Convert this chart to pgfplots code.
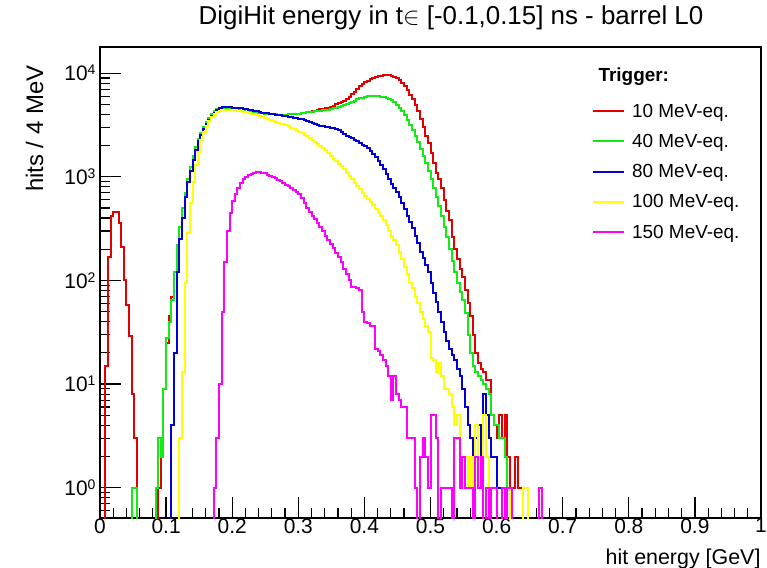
\documentclass[border=0pt]{standalone}
\usepackage{fontspec}
\setmainfont{Liberation Sans}
\usepackage{pgfplots}
\pgfplotsset{compat=1.18}
\definecolor{rred}{RGB}{228,0,0}
\definecolor{rgreen}{RGB}{20,235,20}
\definecolor{rblue}{RGB}{0,0,215}
\definecolor{ryellow}{RGB}{255,255,0}
\definecolor{rmagenta}{RGB}{255,0,255}
\newcommand\tenpow[1]{10\raisebox{6bp}{\fontsize{14}{14}\selectfont #1}}
\begin{document}
\begin{tikzpicture}
\begin{axis}[
  at={(0,0)}, anchor=south west,
  scale only axis, width=661bp, height=471bp,
  xmin=0, xmax=1, ymode=log, ymin=0.51, ymax=17900,
  axis line style={line width=1.3bp},
  tick style={line width=1.2bp, black},
  tick align=inside, xtick pos=left, ytick pos=left,
  major tick length=21bp, minor tick length=10.5bp,
  xtick={0,0.1,...,1}, minor x tick num=4,
  ytick={1,10,100,1000,10000},
  yticklabels={\tenpow{0},\tenpow{1},\tenpow{2},\tenpow{3},\tenpow{4}},
  minor ytick={0.6,0.7,0.8,0.9,2,3,4,5,6,7,8,9,20,30,40,50,60,70,80,90,200,300,400,500,600,700,800,900,2000,3000,4000,5000,6000,7000,8000,9000},
  /pgf/number format/assume math mode=true,
  tick label style={font=\fontsize{21}{21}\selectfont},
  xticklabel style={yshift=3bp},
  yticklabel style={xshift=-1bp},
  title={DigiHit energy in t$\in$ [-0.1,0.15] ns - barrel L0},
  title style={at={(axis description cs:0.531,1.036)}, anchor=base, yshift=0pt, inner sep=0pt, font=\fontsize{26}{26}\selectfont},
  xlabel={hit energy [GeV]},
  xlabel style={at={(axis description cs:1,0)}, anchor=north east, xshift=3bp, yshift=-27bp, font=\fontsize{21.5}{21.5}\selectfont},
  ylabel={hits / 4 MeV},
  ylabel style={at={(axis description cs:-0.0802,0.968)}, anchor=south east, font=\fontsize{24}{24}\selectfont},
  legend style={draw=none, fill=none, at={(rel axis cs:0.7443,0.8963)}, anchor=north west,
    font=\fontsize{19}{19}\selectfont, inner sep=0pt,
    nodes={inner sep=0pt, minimum height=30.3bp},
    /tikz/every odd column/.append style={column sep=7bp}},
  legend cell align=left,
  legend image code/.code={\draw[#1,line width=2bp] (0bp,0bp) -- (31bp,0bp);},
  every axis plot/.append style={const plot mark left, line width=2bp, no marks},
]
% 10 MeV-eq.
\addplot[rred] coordinates {
(0.004,0.01)(0.008,15)(0.012,170)(0.016,420)(0.020,460)(0.024,460)(0.028,360)(0.032,210)(0.036,100)(0.040,58)(0.044,29)(0.048,8)(0.052,3)
(0.056,0.01)
(0.088,1)(0.092,2)(0.096,9)(0.100,25)(0.104,45)(0.108,70)(0.112,120)(0.116,220)(0.120,330)(0.124,500)(0.128,700)(0.132,950)(0.136,1250)(0.140,1600)(0.144,1950)(0.148,2300)(0.152,2650)(0.156,3000)(0.160,3350)(0.164,3700)(0.168,4000)(0.172,4300)(0.176,4500)(0.180,4600)
(0.184,4650)(0.188,4650)(0.192,4600)(0.196,4550)(0.200,4500)(0.204,4450)(0.208,4400)(0.212,4350)(0.216,4300)(0.220,4250)(0.224,4220)(0.228,4190)(0.232,4160)(0.236,4140)(0.240,4120)(0.244,4100)(0.248,4080)(0.252,4060)(0.256,4040)(0.260,4020)(0.264,4000)(0.268,3990)(0.272,3980)(0.276,3980)(0.280,3990)(0.284,4000)(0.288,4020)(0.292,4040)
(0.296,4060)(0.300,4080)(0.304,4110)(0.308,4150)(0.312,4200)(0.316,4250)(0.320,4300)(0.324,4350)(0.328,4420)(0.332,4480)(0.336,4540)(0.340,4600)(0.344,4650)(0.348,4750)(0.352,4870)(0.356,5000)(0.360,5120)(0.364,5250)(0.368,5400)(0.372,5600)(0.376,5900)(0.380,6250)(0.384,6650)(0.388,7050)(0.392,7450)(0.396,7800)
(0.400,8150)(0.404,8450)(0.408,8750)(0.412,9000)(0.416,9200)(0.420,9400)(0.424,9500)(0.428,9600)(0.432,9650)(0.436,9600)(0.440,9500)(0.444,9250)(0.448,8950)(0.452,8550)(0.456,8100)(0.460,7500)(0.464,6900)(0.468,6200)(0.472,5600)(0.476,4900)(0.480,4300)(0.484,3600)(0.488,3000)(0.492,2500)(0.496,2100)
(0.500,1700)(0.504,1350)(0.508,1100)(0.512,950)(0.516,780)(0.520,600)(0.524,470)(0.528,380)(0.532,260)(0.536,200)(0.540,160)(0.544,130)(0.548,108)(0.552,80)(0.556,60)(0.560,45)(0.564,30)(0.568,20)(0.572,16)(0.576,14)(0.580,13)(0.584,11)(0.588,11)(0.592,5)(0.596,4)
(0.600,3)(0.604,5)(0.608,3)(0.612,5)(0.616,2)(0.620,1)(0.624,1)(0.628,2)(0.632,1)(0.636,1)(0.640,0.01)
};
\addlegendentry{10 MeV-eq.}
% 40 MeV-eq.
\addplot[rgreen] coordinates {
(0.044,0.01)(0.048,1)(0.052,1)(0.056,0.01)
(0.084,1)(0.088,3)(0.092,2)(0.096,9)(0.100,28)(0.104,40)(0.108,65)(0.112,120)(0.116,220)(0.120,330)(0.124,500)(0.128,700)(0.132,950)(0.136,1250)(0.140,1600)(0.144,1950)(0.148,2300)(0.152,2650)(0.156,3000)(0.160,3350)(0.164,3700)(0.168,4000)(0.172,4300)(0.176,4500)(0.180,4600)
(0.184,4650)(0.188,4650)(0.192,4600)(0.196,4550)(0.200,4500)(0.204,4450)(0.208,4400)(0.212,4350)(0.216,4300)(0.220,4250)(0.224,4220)(0.228,4190)(0.232,4160)(0.236,4140)(0.240,4120)(0.244,4100)(0.248,4080)(0.252,4060)(0.256,4040)(0.260,4020)(0.264,4000)(0.268,3990)(0.272,3980)(0.276,3980)(0.280,3990)(0.284,4000)(0.288,4020)(0.292,4040)
(0.296,4060)(0.300,4080)(0.304,4110)(0.308,4150)(0.312,4190)(0.316,4230)(0.320,4260)(0.324,4290)(0.328,4320)(0.332,4350)(0.336,4380)(0.340,4410)(0.344,4450)(0.348,4500)(0.352,4580)(0.356,4660)(0.360,4740)(0.364,4820)(0.368,4900)(0.372,5000)(0.376,5150)(0.380,5300)(0.384,5450)(0.388,5600)(0.392,5720)(0.396,5820)
(0.400,5900)(0.404,5960)(0.408,6000)(0.412,6030)(0.416,6030)(0.420,6000)(0.424,5950)(0.428,5880)(0.432,5780)(0.436,5650)(0.440,5480)(0.444,5250)(0.448,4980)(0.452,4650)(0.456,4300)(0.460,3950)(0.464,3550)(0.468,3150)(0.472,2800)(0.476,2450)(0.480,2150)(0.484,1850)(0.488,1600)(0.492,1350)(0.496,1150)
(0.500,950)(0.504,780)(0.508,640)(0.512,520)(0.516,420)(0.520,330)(0.524,260)(0.528,200)(0.532,155)(0.536,120)(0.540,95)(0.544,78)(0.548,65)(0.552,48)(0.556,30)(0.560,20)(0.564,15)(0.568,13)(0.572,12)(0.576,11)(0.580,10)(0.584,9)(0.588,8)(0.592,5)(0.596,4)
(0.600,4)(0.604,3)(0.608,3)(0.612,2)(0.616,1)(0.620,0.01)
};
\addlegendentry{40 MeV-eq.}
% 80 MeV-eq.
\addplot[rblue] coordinates {
(0.104,0.01)(0.108,4)(0.112,20)(0.116,120)(0.120,250)(0.124,400)(0.128,640)(0.132,900)(0.136,1150)(0.140,1450)(0.144,1800)(0.148,2200)(0.152,2550)(0.156,2900)(0.160,3250)(0.164,3550)(0.168,3850)(0.172,4150)(0.176,4400)(0.180,4600)
(0.184,4700)(0.188,4700)(0.192,4700)(0.196,4700)(0.200,4650)(0.204,4650)(0.208,4600)(0.212,4600)(0.216,4550)(0.220,4500)(0.224,4450)(0.228,4400)(0.232,4350)(0.236,4300)(0.240,4230)(0.244,4170)(0.248,4130)(0.252,4100)(0.256,4060)(0.260,4020)(0.264,3980)(0.268,3950)(0.272,3920)(0.276,3880)(0.280,3850)(0.284,3800)(0.288,3750)(0.292,3720)
(0.296,3700)(0.300,3640)(0.304,3580)(0.308,3500)(0.312,3430)(0.316,3370)(0.320,3300)(0.324,3240)(0.328,3180)(0.332,3120)(0.336,3070)(0.340,3030)(0.344,3000)(0.348,2970)(0.352,2950)(0.356,2900)(0.360,2800)(0.364,2700)(0.368,2600)(0.372,2500)(0.376,2420)(0.380,2350)(0.384,2270)(0.388,2200)(0.392,2120)(0.396,2050)
(0.400,1980)(0.404,1880)(0.408,1780)(0.412,1660)(0.416,1550)(0.420,1420)(0.424,1300)(0.428,1180)(0.432,1060)(0.436,950)(0.440,860)(0.444,780)(0.448,710)(0.452,640)(0.456,560)(0.460,490)(0.464,420)(0.468,370)(0.472,320)(0.476,270)(0.480,230)(0.484,190)(0.488,165)(0.492,140)(0.496,120)
(0.500,95)(0.504,75)(0.508,62)(0.512,50)(0.516,40)(0.520,32)(0.524,26)(0.528,22)(0.532,19)(0.536,17)(0.540,14)(0.544,12)(0.548,9)(0.552,6)(0.556,4)(0.560,3)(0.564,2)(0.568,3)(0.572,4)(0.576,2)(0.580,8)(0.584,5)(0.588,3)(0.592,2)(0.596,2)
(0.600,1)(0.604,1)(0.608,0.01)
};
\addlegendentry{80 MeV-eq.}
% 100 MeV-eq.
\addplot[ryellow] coordinates {
(0.116,0.01)(0.120,3)(0.124,13)(0.128,95)(0.132,290)(0.136,560)(0.140,900)(0.144,1300)(0.148,1750)(0.152,2250)(0.156,2700)(0.160,3100)(0.164,3450)(0.168,3750)(0.172,4000)(0.176,4200)(0.180,4350)
(0.184,4400)(0.188,4450)(0.192,4450)(0.196,4450)(0.200,4400)(0.204,4400)(0.208,4350)(0.212,4300)(0.216,4250)(0.220,4200)(0.224,4150)(0.228,4080)(0.232,4020)(0.236,3950)(0.240,3880)(0.244,3800)(0.248,3720)(0.252,3640)(0.256,3560)(0.260,3480)(0.264,3400)(0.268,3330)(0.272,3260)(0.276,3200)(0.280,3150)(0.284,3070)(0.288,2980)(0.292,2880)
(0.296,2790)(0.300,2700)(0.304,2620)(0.308,2540)(0.312,2470)(0.316,2370)(0.320,2270)(0.324,2170)(0.328,2070)(0.332,1970)(0.336,1880)(0.340,1800)(0.344,1700)(0.348,1600)(0.352,1500)(0.356,1410)(0.360,1330)(0.364,1260)(0.368,1180)(0.372,1100)(0.376,1020)(0.380,950)(0.384,880)(0.388,820)(0.392,760)(0.396,700)
(0.400,650)(0.404,610)(0.408,570)(0.412,530)(0.416,490)(0.420,450)(0.424,415)(0.428,380)(0.432,340)(0.436,300)(0.440,270)(0.444,245)(0.448,220)(0.452,190)(0.456,160)(0.460,135)(0.464,115)(0.468,95)(0.472,85)(0.476,70)(0.480,60)(0.484,50)(0.488,42)(0.492,36)(0.496,32)
(0.500,18)(0.504,17)(0.508,13)(0.512,16)(0.516,12)(0.520,9)(0.524,9)(0.528,8)(0.532,6)(0.536,4)(0.540,5)(0.544,2)(0.548,1)(0.552,2)(0.556,1)(0.560,2)(0.564,1)(0.568,4)(0.572,2)(0.576,1)(0.580,5)(0.584,2)(0.588,1)(0.592,0.01)
(0.616,1)(0.620,0.01)(0.640,1)(0.644,1)(0.648,0.01)
};
\addlegendentry{100 MeV-eq.}
% 150 MeV-eq.
\addplot[rmagenta] coordinates {
(0.168,0.01)(0.172,1)(0.176,3)(0.180,10)(0.184,50)(0.188,150)(0.192,300)(0.196,450)(0.200,580)(0.204,680)(0.208,780)(0.212,880)(0.216,950)(0.220,1000)(0.224,1040)(0.228,1070)(0.232,1090)(0.236,1110)(0.240,1110)(0.244,1100)(0.248,1080)(0.252,1050)(0.256,1020)(0.260,1000)(0.264,970)(0.268,940)(0.272,910)(0.276,880)(0.280,840)(0.284,810)(0.288,780)(0.292,750)
(0.296,720)(0.300,690)(0.304,620)(0.308,560)(0.312,500)(0.316,460)(0.320,420)(0.324,390)(0.328,360)(0.332,330)(0.336,300)(0.340,270)(0.344,245)(0.348,225)(0.352,205)(0.356,185)(0.360,170)(0.364,150)(0.368,130)(0.372,115)(0.376,100)(0.380,87)(0.384,87)(0.388,85)(0.392,80)(0.396,50)
(0.400,40)(0.404,39)(0.408,36)(0.412,36)(0.416,22)(0.420,21)(0.424,19)(0.428,17)(0.432,15)(0.436,12)(0.440,7)(0.444,12)(0.448,8)(0.452,7)(0.456,6)(0.460,6)(0.464,3)(0.468,3)(0.472,3)(0.476,1)(0.480,0.01)(0.484,2)(0.488,3)(0.492,2)(0.496,1)
(0.500,5)(0.504,5)(0.508,3)(0.512,0.01)(0.516,1)(0.520,1)(0.524,1)(0.528,1)(0.532,0.01)(0.536,3)(0.540,3)(0.544,1)(0.548,2)(0.552,1)(0.556,1)(0.560,1)(0.564,0.01)(0.568,2)(0.572,1)(0.576,2)(0.580,0.01)(0.584,1)(0.588,0.01)(0.592,1)(0.596,1)
(0.600,0.01)(0.608,1)(0.612,0.01)(0.616,1)(0.620,1)(0.624,0.01)(0.664,1)(0.668,0.01)
};
\addlegendentry{150 MeV-eq.}
\node[anchor=base west, font=\bfseries\fontsize{19}{19}\selectfont] at (rel axis cs:0.7489,0.9263) {Trigger:};
\end{axis}
\pgfresetboundingbox
\useasboundingbox (-100bp,-50bp) rectangle (667bp,518bp);
\end{tikzpicture}
\end{document}
